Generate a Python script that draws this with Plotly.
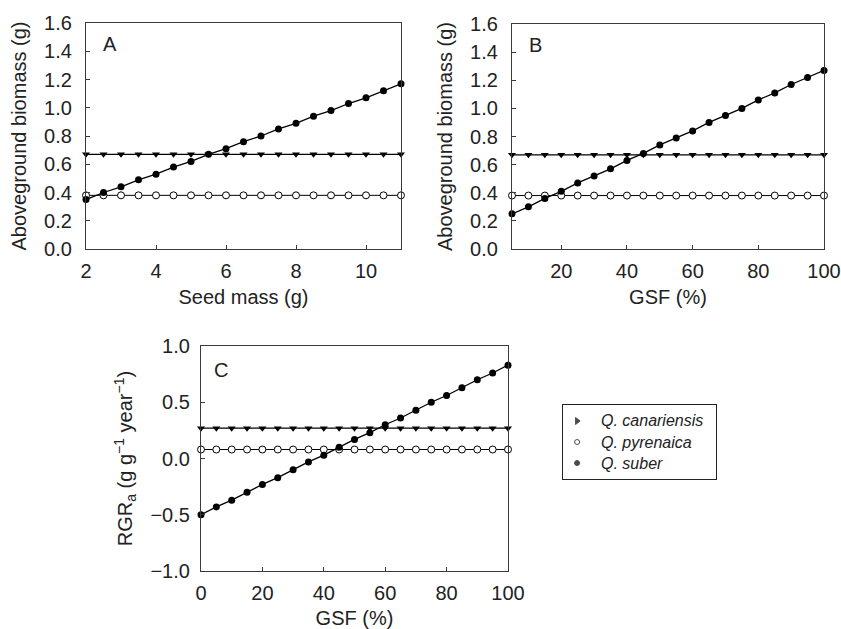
import plotly.graph_objects as go

# Panel A: seed mass (g)
seed_mass = [2, 2.5, 3, 3.5, 4, 4.5, 5, 5.5, 6, 6.5, 7, 7.5, 8, 8.5, 9, 9.5, 10, 10.5, 11]
a_suber = [0.35, 0.40, 0.44, 0.49, 0.53, 0.58, 0.62, 0.67, 0.71, 0.76, 0.80, 0.85, 0.89, 0.94, 0.98, 1.03, 1.07, 1.12, 1.17]
a_canariensis = [0.67] * len(seed_mass)
a_pyrenaica = [0.38] * len(seed_mass)

# Panel B: GSF (%)
gsf_b = [5, 10, 15, 20, 25, 30, 35, 40, 45, 50, 55, 60, 65, 70, 75, 80, 85, 90, 95, 100]
b_suber = [0.25, 0.30, 0.36, 0.41, 0.47, 0.52, 0.57, 0.63, 0.68, 0.74, 0.79, 0.84, 0.90, 0.95, 1.00, 1.06, 1.11, 1.17, 1.22, 1.27]
b_canariensis = [0.67] * len(gsf_b)
b_pyrenaica = [0.38] * len(gsf_b)

# Panel C: GSF (%)
gsf_c = [0, 5, 10, 15, 20, 25, 30, 35, 40, 45, 50, 55, 60, 65, 70, 75, 80, 85, 90, 95, 100]
c_suber = [-0.50, -0.43, -0.37, -0.30, -0.23, -0.17, -0.10, -0.03, 0.03, 0.10, 0.17, 0.23, 0.30, 0.36, 0.43, 0.50, 0.56, 0.63, 0.70, 0.76, 0.83]
c_canariensis = [0.27] * len(gsf_c)
c_pyrenaica = [0.08] * len(gsf_c)

species = ["Q. canariensis", "Q. pyrenaica", "Q. suber"]
legend_symbols = ["triangle-right", "circle", "circle"]
legend_fill = ["black", "white", "black"]

FONT = "Liberation Sans, Arial, Helvetica, sans-serif"
W, H = 841, 629
AX = "#3a3a3a"
TXT = "#222"

fig = go.Figure()

panels = [
    ("x", "y", seed_mass, a_canariensis, a_pyrenaica, a_suber),
    ("x2", "y2", gsf_b, b_canariensis, b_pyrenaica, b_suber),
    ("x3", "y3", gsf_c, c_canariensis, c_pyrenaica, c_suber),
]

for xa, ya, xs, can, pyr, sub in panels:
    fig.add_trace(go.Scatter(x=xs, y=can, xaxis=xa, yaxis=ya, mode="lines+markers",
                             line=dict(color="black", width=1.3),
                             marker=dict(symbol="triangle-down", size=7, color="black"),
                             showlegend=False, cliponaxis=False, name=species[0]))
    fig.add_trace(go.Scatter(x=xs, y=pyr, xaxis=xa, yaxis=ya, mode="lines+markers",
                             line=dict(color="black", width=1),
                             marker=dict(symbol="circle", size=7, color="white",
                                         line=dict(color="black", width=1)),
                             showlegend=False, cliponaxis=False, name=species[1]))
    fig.add_trace(go.Scatter(x=xs, y=sub, xaxis=xa, yaxis=ya, mode="lines+markers",
                             line=dict(color="black", width=1.3),
                             marker=dict(symbol="circle", size=7, color="black"),
                             showlegend=False, cliponaxis=False, name=species[2]))

# legend (own small axis so row spacing can match the original)
leg_idx = list(range(len(species)))
fig.add_trace(go.Scatter(x=[0.092] * len(species), y=leg_idx, xaxis="x4", yaxis="y4",
                         mode="markers", showlegend=False, cliponaxis=False, hoverinfo="skip",
                         marker=dict(symbol=legend_symbols, size=[6, 5, 5], color=legend_fill,
                                     line=dict(color="black", width=1))))

def px_x(a, b):
    return [a / W, b / W]

def px_y(top, bottom):
    return [1 - bottom / H, 1 - top / H]

common = dict(showline=True, linecolor=AX, linewidth=1.2, mirror=True, automargin=False,
              ticks="inside", ticklen=4, tickcolor=AX, showgrid=False, zeroline=False,
              tickfont=dict(size=20, color=TXT, family=FONT))
title_font = dict(size=20, color=TXT, family=FONT)

annotations = [
    dict(text="A", x=2.42, y=1.45, xref="x", yref="y", showarrow=False,
         xanchor="left", yanchor="middle", font=dict(size=20, family=FONT, color=TXT)),
    dict(text="B", x=9.6, y=1.45, xref="x2", yref="y2", showarrow=False,
         xanchor="left", yanchor="middle", font=dict(size=20, family=FONT, color=TXT)),
    dict(text="C", x=3.6, y=0.787, xref="x3", yref="y3", showarrow=False,
         xanchor="left", yanchor="middle", font=dict(size=20, family=FONT, color=TXT)),
]
for i, name in zip(leg_idx, species):
    annotations.append(dict(text="<i>" + name + "</i>", x=0.235, y=i, xref="x4", yref="y4",
                            showarrow=False, xanchor="left", yanchor="middle",
                            font=dict(size=16, family=FONT, color=TXT)))

fig.update_layout(
    width=W, height=H, margin=dict(l=0, r=0, t=0, b=0),
    plot_bgcolor="white", paper_bgcolor="white",
    font=dict(family=FONT, color=TXT),
    showlegend=False,
    xaxis=dict(domain=px_x(86, 401), range=[2, 11], tickvals=[2, 4, 6, 8, 10], anchor="y",
               ticklabelstandoff=4,
               title=dict(text="Seed mass (g)", font=title_font, standoff=8), **common),
    yaxis=dict(domain=px_y(23, 249), range=[0, 1.6], dtick=0.2, tickformat=".1f", anchor="x",
               ticklabelstandoff=9,
               title=dict(text="Aboveground biomass (g)", font=title_font, standoff=12), **common),
    xaxis2=dict(domain=px_x(512, 824), range=[5, 100], tickvals=[20, 40, 60, 80, 100], anchor="y2",
                ticklabelstandoff=4,
                title=dict(text="GSF (%)", font=title_font, standoff=8), **common),
    yaxis2=dict(domain=px_y(24, 249), range=[0, 1.6], dtick=0.2, tickformat=".1f", anchor="x2",
                ticklabelstandoff=9,
                title=dict(text="Aboveground biomass (g)", font=title_font, standoff=12), **common),
    xaxis3=dict(domain=px_x(201, 508), range=[0, 100], dtick=20, anchor="y3",
                ticklabelstandoff=4,
                title=dict(text="GSF (%)", font=title_font, standoff=9), **common),
    yaxis3=dict(domain=px_y(346, 571), range=[-1, 1], dtick=0.5, tickformat=".1f", anchor="x3",
                ticklabelstandoff=6,
                title=dict(text="RGR<sub>a</sub> (g g<sup>\u22121</sup> year<sup>\u22121</sup>)",
                           font=title_font, standoff=12), **common),
    xaxis4=dict(domain=px_x(563, 716), range=[0, 1], anchor="y4", showticklabels=False,
                ticks="", showgrid=False, zeroline=False, showline=True, mirror=True,
                linecolor=TXT, linewidth=1.2, automargin=False, fixedrange=True),
    yaxis4=dict(domain=px_y(405, 479), range=[2.76, -0.76], anchor="x4", showticklabels=False,
                ticks="", showgrid=False, zeroline=False, showline=True, mirror=True,
                linecolor=TXT, linewidth=1.2, automargin=False, fixedrange=True),
    annotations=annotations,
)

fig.write_html("out.html", config={"displayModeBar": False},
               post_script="document.body.style.margin='0px';document.body.style.overflow='hidden';")
